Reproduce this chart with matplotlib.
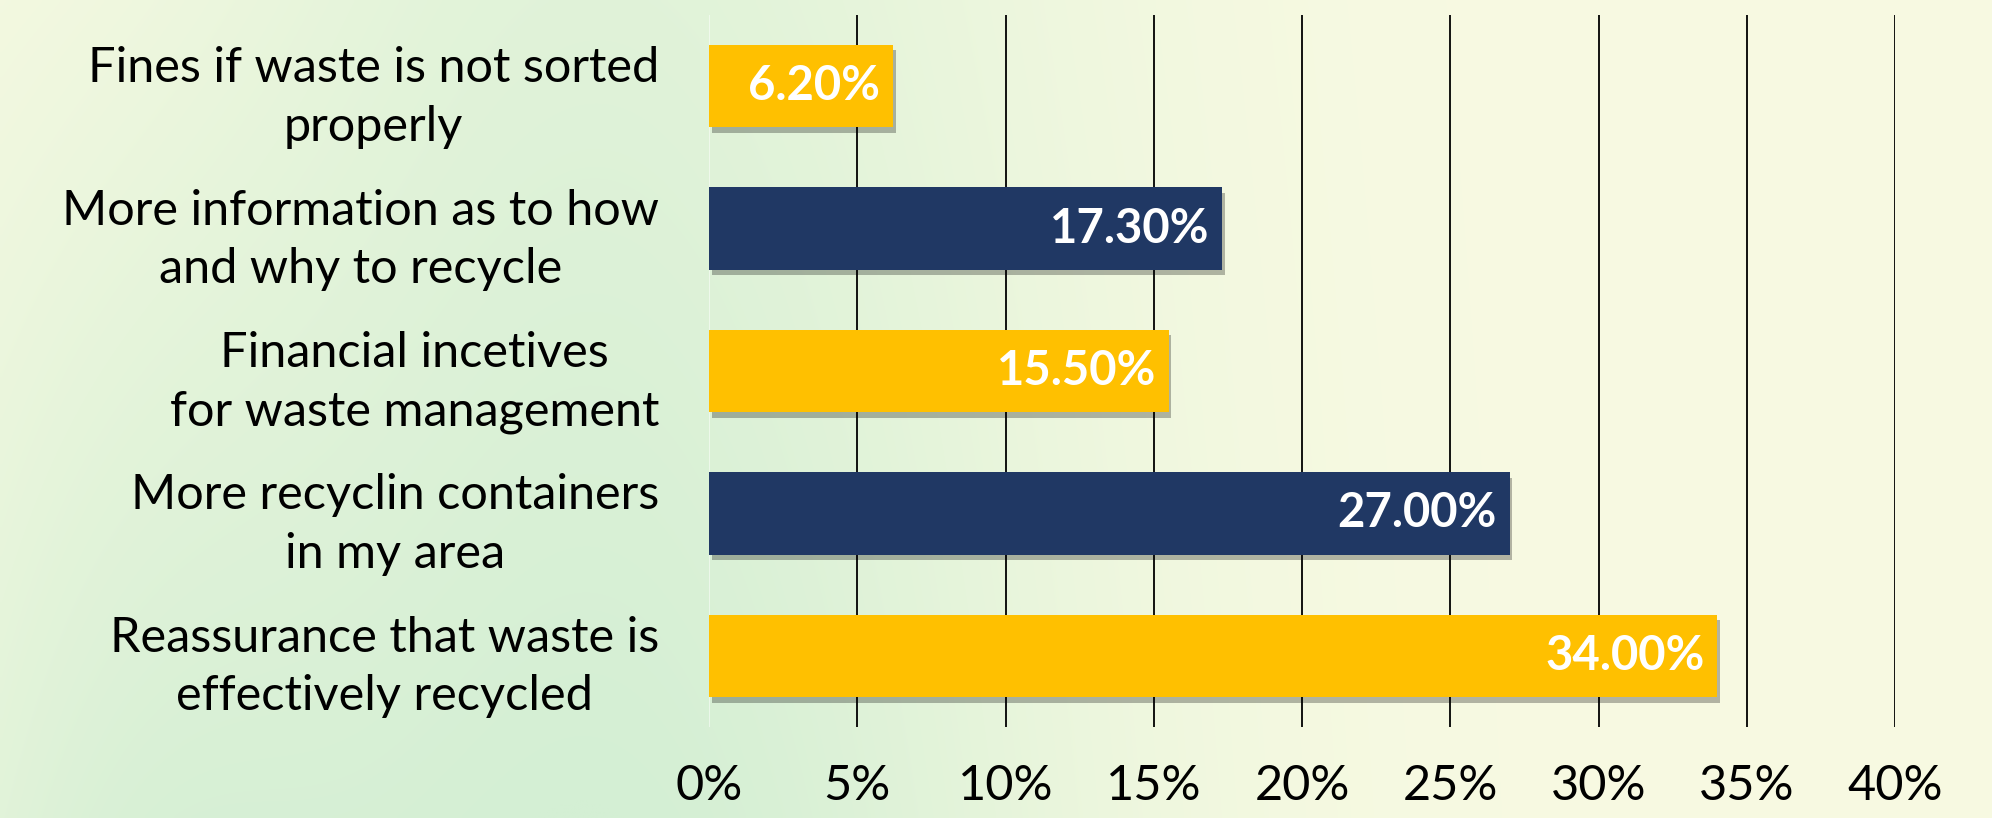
import numpy as np
import matplotlib
matplotlib.use("Agg")
import matplotlib.pyplot as plt
from matplotlib import patheffects as pe

categories = [
    "Fines if waste is not sorted\nproperly",
    "More information as to how\nand why to recycle",
    "Financial incetives\nfor waste management",
    "More recyclin containers\nin my area",
    "Reassurance that waste is\neffectively recycled",
]
values = [6.2, 17.3, 15.5, 27.0, 34.0]
bar_colors = ["#FFC000", "#203864", "#FFC000", "#203864", "#FFC000"]
xticks = [0, 5, 10, 15, 20, 25, 30, 35, 40]

plt.rcParams['font.family'] = ['Lato', 'DejaVu Sans']

W, H = 1992, 818
fig = plt.figure(figsize=(W / 100, H / 100), dpi=100)

# background gradient (decorative)
bg = fig.add_axes([0, 0, 1, 1], zorder=-10)
yy, xx = np.mgrid[0:1:200j, 0:1:500j]
base = np.array([248, 250, 226]) / 255.0
green = np.array([212, 239, 212]) / 255.0
w = np.exp(-((xx - 0.30) / 0.24) ** 2) * (0.65 + 0.35 * yy)
w += 0.5 * np.exp(-((xx - 0.05) / 0.12) ** 2) * yy
w = np.clip(w, 0, 1)
img = base[None, None, :] * (1 - w[..., None]) + green[None, None, :] * w[..., None]
bg.imshow(img, aspect='auto', extent=[0, 1, 1, 0], interpolation='bilinear')
bg.set_axis_off()

ax = fig.add_axes([709 / W, 1 - 727 / H, (1895 - 709) / W, (727 - 15) / H])
ax.patch.set_alpha(0)
ypos = np.arange(len(categories))
bars = ax.barh(ypos, values, height=0.58, color=bar_colors, zorder=3)
for b in bars:
    b.set_path_effects([pe.SimplePatchShadow(offset=(2, -4), shadow_rgbFace='black', alpha=0.28),
                        pe.Normal()])
for yv, v in zip(ypos, values):
    ax.annotate(f"{v:.2f}%", xy=(v, yv), xytext=(-9, 0), textcoords='offset points',
                ha='right', va='center', color='white', fontsize=34, fontweight='bold', zorder=4)

ax.set_ylim(len(categories) - 0.5, -0.5)
ax.set_xlim(0, 40)
ax.set_yticks(ypos)
ax.set_yticklabels(categories, fontsize=35, multialignment='center', linespacing=1.4)
ax.set_xticks(xticks)
ax.set_xticklabels([f"{t}%" for t in xticks], fontsize=35)
ax.tick_params(axis='y', length=0, pad=36)
ax.tick_params(axis='x', length=0, pad=27)
ax.grid(axis='x', color='black', linewidth=1.3, zorder=1)
ax.get_xgridlines()[0].set_visible(False)
ax.axvline(0, color='white', alpha=0.5, linewidth=1.5, zorder=1)
for s in ax.spines.values():
    s.set_visible(False)

fig.savefig("out.png", dpi=100)
